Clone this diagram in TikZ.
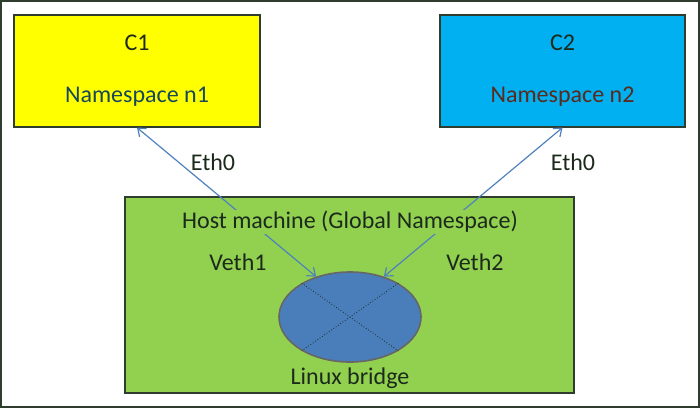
\documentclass[tikz,border=0pt]{standalone}
\usepackage{fontspec}
\setmainfont{Carlito}
\usetikzlibrary{shapes.geometric,arrows.meta}

\definecolor{cyellow}{HTML}{FFFF00}
\definecolor{cblue}{HTML}{00B0F0}
\definecolor{hostgreen}{HTML}{92D050}
\definecolor{bridgeblue}{HTML}{4A7EBB}
\definecolor{linkblue}{HTML}{4F81BD}
\definecolor{edgedark}{HTML}{2E3D2E}
\definecolor{textdark}{HTML}{1C2A1C}
\definecolor{nsone}{HTML}{17475A}
\definecolor{nstwo}{HTML}{5A2A1C}

\begin{document}
\begin{tikzpicture}[x=0.5pt,y=-0.5pt,
    font=\fontsize{12}{14.4}\selectfont,text=textdark,
    box/.style={draw=edgedark,line width=0.6pt,inner sep=0pt},
    link/.style={{Straight Barb[length=3.5pt,width=5.5pt]}-{Straight Barb[length=3.5pt,width=5.5pt]},
                 linkblue,line width=0.6pt}]
  \useasboundingbox (0,0) rectangle (700,408);
  \draw[edgedark,line width=0.8pt] (0.8,0.8) rectangle (699.2,407.2);
  % containers
  \node[box,fill=cyellow,minimum width=123pt,minimum height=56pt] (c1) at (137,71) {};
  \node[box,fill=cblue,minimum width=122.5pt,minimum height=56pt] (c2) at (562.5,71) {};
  \node[box,fill=hostgreen,minimum width=224.5pt,minimum height=98pt] (host) at (349.5,295) {};
  \node[ellipse,draw=gray!80!black,line width=0.8pt,fill=bridgeblue,inner sep=0pt,
        minimum width=71pt,minimum height=45pt] (br) at (350,317) {};
  \draw[textdark,densely dotted,line width=0.4pt] (br.145) -- (br.-35);
  \draw[textdark,densely dotted,line width=0.4pt] (br.35) -- (br.-145);
  % links
  \draw[link] (c1.south) -- (br.130);
  \draw[link] (c2.south) -- (br.50);
  % labels
  \node (c1t) at (137,43) {C1};
  \node[text=nsone] (ns1) at (137,97) {Namespace n1};
  \node (c2t) at (562.5,43) {C2};
  \node[text=nstwo] (ns2) at (562.5,97) {Namespace n2};
  \node (e1) at (213,162) {Eth0};
  \node (e2) at (573,162) {Eth0};
  \node[fill=hostgreen,inner sep=0.6pt] (hostt) at (350,222) {Host machine (Global Namespace)};
  \node (v1) at (238,262) {Veth1};
  \node (v2) at (475,262) {Veth2};
  \node (brt) at (350,378) {Linux bridge};
\end{tikzpicture}
\end{document}
